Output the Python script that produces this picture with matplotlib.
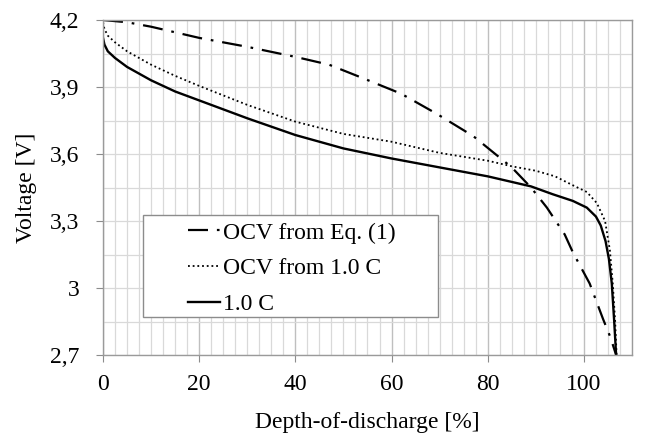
import numpy as np
import matplotlib
matplotlib.use("Agg")
import matplotlib.pyplot as plt
from matplotlib.patches import Rectangle

# 1.0 C discharge curve
dod_meas = [0, 0.3, 1, 2.5, 5, 10, 15, 20, 30, 40, 50, 60, 70, 80, 85, 89,
            93.5, 97.7, 100.6, 102.5, 103.5, 104.5, 105.2, 105.8, 106.3, 106.7]
v_meas = [4.12, 4.09, 4.06, 4.03, 3.99, 3.93, 3.88, 3.84, 3.76, 3.685, 3.625, 3.58,
          3.54, 3.50, 3.475, 3.455, 3.42, 3.39, 3.36, 3.32, 3.28, 3.21, 3.13, 3.02,
          2.85, 2.70]

# OCV derived from 1.0 C
dod_ocv = [0, 0.3, 1, 2.5, 5, 10, 15, 20, 30, 40, 50, 60, 70, 80, 85, 90, 94,
           97.7, 100.6, 102.7, 104.4, 105.4, 106, 106.5, 106.8]
v_ocv = [4.19, 4.16, 4.13, 4.10, 4.06, 4.00, 3.95, 3.905, 3.82, 3.745, 3.69, 3.655,
         3.605, 3.57, 3.545, 3.525, 3.50, 3.46, 3.43, 3.38, 3.30, 3.17, 3.02, 2.85, 2.70]

# OCV from Eq. (1)
dod_eq = [0, 5, 10, 20, 30, 40, 47, 54, 62, 69.4, 77, 85, 89, 92.3, 96, 97.7,
          101.2, 104, 105.5, 106.7]
v_eq = [4.20, 4.19, 4.17, 4.12, 4.08, 4.035, 4.0, 3.94, 3.87, 3.78, 3.68, 3.54,
        3.45, 3.36, 3.24, 3.16, 3.02, 2.86, 2.78, 2.70]

x_ticks = [0, 20, 40, 60, 80, 100]
y_ticks = [2.7, 3.0, 3.3, 3.6, 3.9, 4.2]
y_labels = ["2,7", "3", "3,3", "3,6", "3,9", "4,2"]

plt.rcParams["font.family"] = ["Liberation Serif", "DejaVu Serif"]
plt.rcParams["font.size"] = 17

fig = plt.figure(figsize=(6.49, 4.38), dpi=100)
ax = fig.add_axes([0.1587, 0.1895, 0.8151, 0.7648])

grid_c = "#d9d9d9"
ax.set_xticks(np.arange(0, 110.01, 2.5), minor=True)
ax.set_yticks(np.arange(2.7, 4.21, 0.15), minor=True)
ax.grid(True, which="minor", color=grid_c, lw=0.9)
ax.grid(True, which="major", axis="x", color="#bfbfbf", lw=1.0)
ax.grid(True, which="major", axis="y", color=grid_c, lw=0.9)
ax.set_axisbelow(True)

l_eq, = ax.plot(dod_eq, v_eq, color="black", lw=1.6,
                dashes=(9, 4, 1.2, 4), label="OCV from Eq. (1)")
l_ocv, = ax.plot(dod_ocv, v_ocv, color="black", lw=1.3,
                 linestyle=(0, (1, 1.6)), label="OCV from 1.0 C")
l_meas, = ax.plot(dod_meas, v_meas, color="black", lw=1.7, label="1.0 C")

ax.set_xlim(0, 110)
ax.set_ylim(2.7, 4.2)
ax.set_xticks(x_ticks)
ax.set_yticks(y_ticks)
ax.set_yticklabels(y_labels)
ax.tick_params(which="major", direction="out", length=5, color="#8c8c8c")
ax.tick_params(which="minor", length=0)
ax.tick_params(axis="x", pad=9)
ax.tick_params(axis="y", pad=12)
for s in ax.spines.values():
    s.set_color("#9a9a9a")
    s.set_linewidth(1.0)

ax.set_xlabel("Depth-of-discharge [%]", labelpad=12)
ax.set_ylabel("Voltage [V]", labelpad=9)

# legend box
ax.add_patch(Rectangle((0.0756, 0.113), 0.557, 0.305, transform=ax.transAxes,
                       facecolor="white", edgecolor="#8c8c8c", lw=1.0, zorder=4))
ax.legend(handles=[l_eq, l_ocv, l_meas], loc="upper left",
          bbox_to_anchor=(0.148, 0.418), frameon=False, borderaxespad=0,
          borderpad=0.3, handlelength=1.35, handletextpad=0.1, labelspacing=0.6)

fig.savefig("out.png", dpi=100)
